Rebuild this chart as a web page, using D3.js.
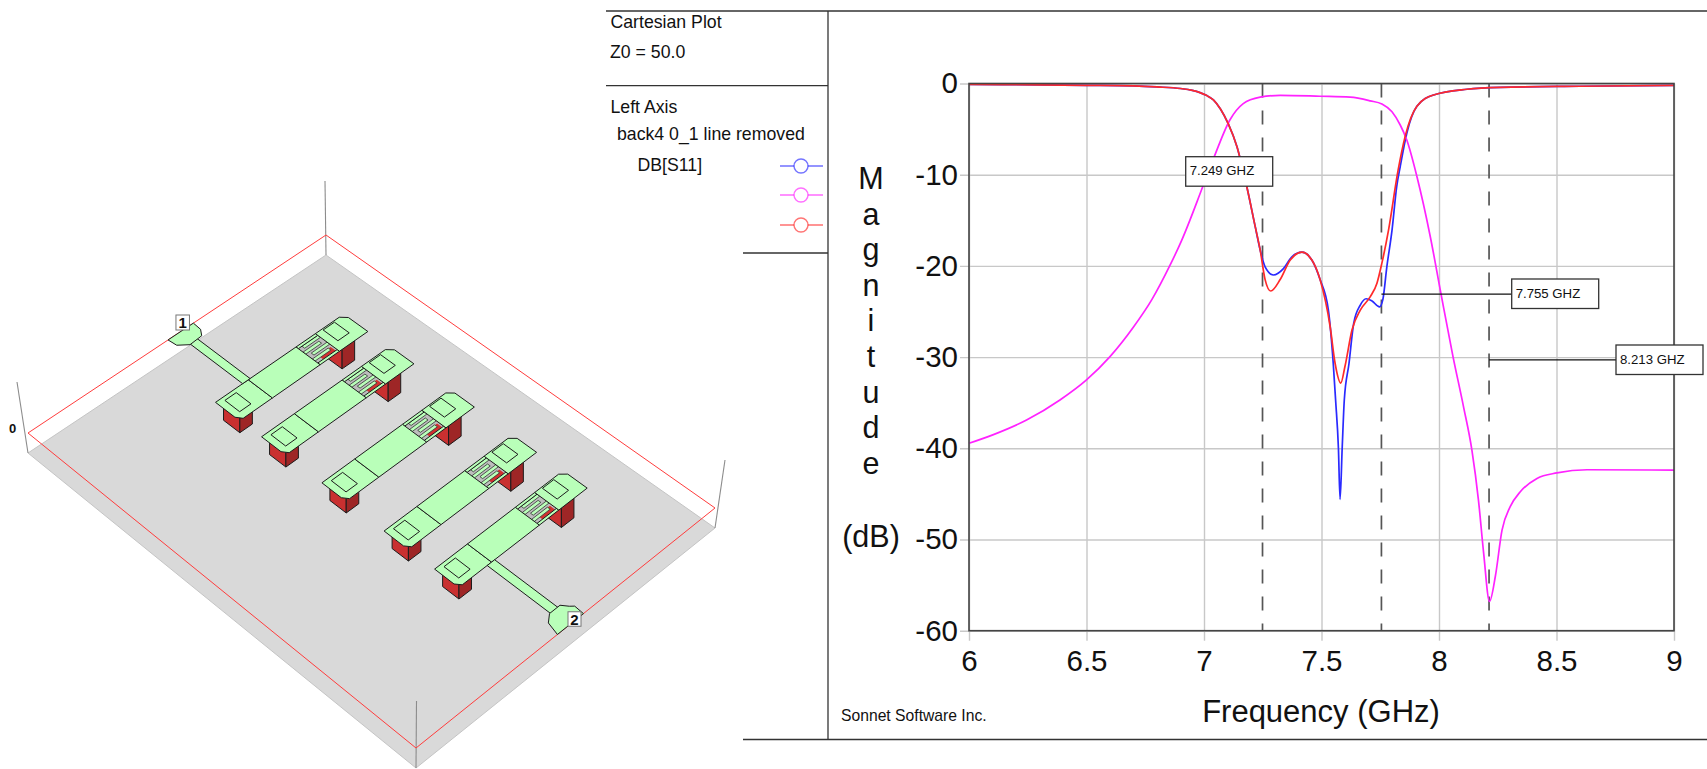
<!DOCTYPE html>
<html>
<head>
<meta charset="utf-8">
<title>Cartesian Plot</title>
<script src="https://cdn.jsdelivr.net/npm/d3@7"></script>
<style>
  body { margin: 0; background: #fff; }
  svg { display: block; }
  text { font-family: "Liberation Sans", Arial, sans-serif; fill: #111; }
</style>
</head>
<body>
<svg id="chart" width="1707" height="769"></svg>
<script>
// values: [frequency GHz, dB]
const s21 = [[6,-39.45],[6.104,-38.5],[6.245,-36.9],[6.387,-34.7],[6.5,-32.5],[6.6,-29.95],[6.7,-26.7],[6.778,-23.7],[6.856,-19.9],[6.905,-17.2],[6.995,-11.3],[7.047,-7.8],[7.11,-4.0],[7.167,-2.2],[7.239,-1.5],[7.324,-1.3],[7.494,-1.4],[7.622,-1.5],[7.707,-1.9],[7.757,-2.25],[7.8,-3.1],[7.835,-4.55],[7.863,-6.2],[7.906,-10.2],[7.963,-16.8],[8.008,-23],[8.06,-30],[8.104,-35.4],[8.14,-40.2],[8.168,-45.7],[8.19,-51.5],[8.215,-56.8],[8.24,-54],[8.268,-49],[8.303,-46.4],[8.345,-44.8],[8.417,-43.3],[8.502,-42.7],[8.63,-42.35],[9,-42.4]];
const s11Shared = [[6,-0.1],[6.5,-0.2],[6.7,-0.27],[6.8,-0.38],[6.9,-0.55],[6.95,-0.75],[6.983,-1.0],[7.01,-1.3],[7.04,-1.8],[7.07,-2.8],[7.103,-4.4],[7.14,-6.9],[7.182,-11.3],[7.218,-15.7],[7.239,-18.25]];
const s11Blue = s11Shared.concat([[7.26,-20.1],[7.296,-21],[7.338,-20.3],[7.374,-19],[7.417,-18.5],[7.459,-19.35],[7.494,-21.5],[7.529,-24.8],[7.55,-30.7],[7.56,-34.7],[7.572,-40],[7.579,-45.6],[7.588,-40],[7.597,-34.7],[7.617,-30.7],[7.637,-26.3],[7.665,-24.3],[7.69,-23.6],[7.715,-23.85],[7.747,-24.5],[7.761,-23.7],[7.778,-20.1],[7.8,-16.1],[7.82,-11.3],[7.835,-9.1],[7.863,-5.45],[7.906,-2.5],[7.977,-1.26],[8.119,-0.63],[8.26,-0.42],[8.6,-0.3],[9,-0.2]]);
const s11Red = s11Shared.concat([[7.26,-21.5],[7.284,-22.75],[7.324,-21.5],[7.367,-19.35],[7.417,-18.5],[7.459,-19.35],[7.494,-21.5],[7.537,-26.7],[7.558,-30.7],[7.582,-32.85],[7.6,-31],[7.63,-27],[7.665,-24.85],[7.707,-23.4],[7.736,-21.9],[7.757,-19.7],[7.785,-16.1],[7.826,-9.5],[7.856,-5.8],[7.906,-2.5],[7.977,-1.26],[8.119,-0.63],[8.26,-0.42],[8.6,-0.3],[9,-0.2]]);

const xTicks = [6, 6.5, 7, 7.5, 8, 8.5, 9];
const xTickLabels = ["6", "6.5", "7", "7.5", "8", "8.5", "9"];
const yTicks = [0, -10, -20, -30, -40, -50, -60];
const yTickLabels = ["0", "-10", "-20", "-30", "-40", "-50", "-60"];
const markerFreqs = [7.249, 7.755, 8.213];
const markerLabels = ["7.249 GHZ", "7.755 GHZ", "8.213 GHZ"];
const markerDb = [null, -23.1, -30.3];

const blue = "#2a2aff", magenta = "#ff22ff", red = "#ff2a2a";

const svg = d3.select("#chart");
const plotLeft = 969, plotRight = 1674, plotTop = 83.5, plotBottom = 630.7;
const x = d3.scaleLinear().domain([6, 9]).range([plotLeft, plotRight]);
const y = d3.scaleLinear().domain([0, -60]).range([plotTop, plotBottom]);

// ---- side panel frame
const rules = [[606,11,1707,11],[606,85.7,828,85.7],[743,253,828,253],[828,11,828,739.5],[743,739.5,1707,739.5]];
svg.append("g").selectAll("line").data(rules).enter().append("line")
    .attr("x1", d => d[0]).attr("y1", d => d[1]).attr("x2", d => d[2]).attr("y2", d => d[3])
    .attr("stroke", "#333").attr("stroke-width", 1.3);

const panelText = [["Cartesian Plot",610.5,28],["Z0 = 50.0",610,58],["Left Axis",610.5,113],["back4 0_1 line removed",617,140],["DB[S11]",637.5,171]];
svg.append("g").selectAll("text").data(panelText).enter().append("text")
    .attr("x", d => d[1]).attr("y", d => d[2]).attr("font-size", 17.7).text(d => d[0]);

const legend = svg.append("g").selectAll("g").data([[blue,166],[magenta,195],[red,225]]).enter().append("g")
    .attr("transform", d => `translate(801,${d[1]})`);
legend.append("line").attr("x1", -21).attr("x2", 22).attr("stroke", d => d[0]).attr("stroke-width", 1.2);
legend.append("circle").attr("r", 7).attr("fill", "#fff").attr("stroke", d => d[0]).attr("stroke-opacity", 0.65).attr("stroke-width", 1.4);

// ---- axes and grid
const xAxis = svg.append("g").attr("transform", `translate(0,${plotBottom})`)
    .call(d3.axisBottom(x).tickValues(xTicks).tickFormat((d, i) => xTickLabels[i]).tickSize(10).tickPadding(9));
xAxis.selectAll(".tick line").attr("y2", 10).attr("y1", plotTop - plotBottom);
const yAxis = svg.append("g").attr("transform", `translate(${plotLeft},0)`)
    .call(d3.axisLeft(y).tickValues(yTicks).tickFormat((d, i) => yTickLabels[i]).tickSize(9).tickPadding(2));
yAxis.selectAll(".tick line").attr("x2", plotRight - plotLeft).attr("x1", -9);
[xAxis, yAxis].forEach(a => {
    a.select(".domain").remove();
    a.selectAll(".tick line").attr("stroke", "#c8c8c8").attr("stroke-width", 1.4);
    a.selectAll(".tick text").attr("font-size", 29.5).attr("font-family", "Liberation Sans").attr("fill", "#111");
});

// ---- marker dashes
svg.append("g").selectAll("line").data(markerFreqs).enter().append("line")
    .attr("x1", d => x(d)).attr("x2", d => x(d)).attr("y1", plotTop).attr("y2", plotBottom)
    .attr("stroke", "#555").attr("stroke-width", 1.7).attr("stroke-dasharray", "14 13");

// ---- traces
const line = d3.line().x(d => x(d[0])).y(d => y(d[1])).curve(d3.curveMonotoneX);
[[s11Blue, blue], [s21, magenta], [s11Red, red]].forEach(t => {
    svg.append("path").attr("d", line(t[0])).attr("fill", "none")
        .attr("stroke", t[1]).attr("stroke-width", 1.7);
});

// plot frame
svg.append("rect").attr("x", plotLeft).attr("y", plotTop).attr("width", plotRight - plotLeft).attr("height", plotBottom - plotTop)
    .attr("fill", "none").attr("stroke", "#444").attr("stroke-width", 1.6);

// ---- marker labels
const boxW = 87, boxH = 29.5;
const boxes = [[1185.7,156.7],[1511.7,279],[1616,345]];
markerFreqs.forEach((f, i) => {
    const b = boxes[i];
    if (markerDb[i] !== null) {
        svg.append("line").attr("x1", x(f)).attr("x2", b[0]).attr("y1", y(markerDb[i])).attr("y2", y(markerDb[i]))
            .attr("stroke", "#111").attr("stroke-width", 1.3);
    }
    svg.append("rect").attr("x", b[0]).attr("y", b[1]).attr("width", boxW).attr("height", boxH)
        .attr("fill", "#fff").attr("stroke", "#333").attr("stroke-width", 1.3);
    svg.append("text").attr("x", b[0] + 4).attr("y", b[1] + 18.5).attr("font-size", 13.2).attr("fill", "#333").text(markerLabels[i]);
});

// ---- axis titles
const yTitle = ["M","a","g","n","i","t","u","d","e"];
svg.append("g").selectAll("text").data(yTitle).enter().append("text")
    .attr("x", 871).attr("y", (d, i) => 189 + i * 35.6).attr("text-anchor", "middle").attr("font-size", 30.5).text(d => d);
svg.append("text").attr("x", 871).attr("y", 547).attr("text-anchor", "middle").attr("font-size", 30.5).text("(dB)");
svg.append("text").attr("x", 1321).attr("y", 722).attr("text-anchor", "middle").attr("font-size", 31).text("Frequency (GHz)");
svg.append("text").attr("x", 841).attr("y", 721).attr("font-size", 15.7).attr("fill", "#333").text("Sonnet Software Inc.");

// ---- layout view: board coords u, v in 0..1, z = height above the ground plane
function project(u, v, z) {
    return [326 + 389 * u - 298 * v - u * v,
            255 + 273 * u + 198 * v + 42 * u * v - 20 * (z || 0)];
}
const outline = d3.line();
const layout = svg.append("g");
function poly(pts, z, fill, stroke, w) {
    layout.append("path").attr("d", outline(pts.map(p => project(p[0], p[1], z))) + "Z")
        .attr("fill", fill).attr("stroke", stroke || "none").attr("stroke-width", w || 1).attr("stroke-linejoin", "round");
}
const corners = [[0,0],[1,0],[1,1],[0,1]];
poly(corners, 0, "#d9d9d9", "#c4c4c4", 1);

// corner posts: [u, v, lean x, height y]
const posts = [[0,0,-1,74],[0,1,-11,71],[1,1,0.5,67],[1,0,10,68]];
layout.append("g").selectAll("line").data(posts).enter().append("line")
    .attr("x1", d => project(d[0], d[1], 0)[0]).attr("y1", d => project(d[0], d[1], 0)[1])
    .attr("x2", d => project(d[0], d[1], 0)[0] + d[2]).attr("y2", d => project(d[0], d[1], 0)[1] - d[3])
    .attr("stroke", "#8c8c8c").attr("stroke-width", 1.1);
poly(corners, 1, "none", "#ff3c3c", 1);

// resonators: left edge u, near end v
const resU = [0.169, 0.286, 0.441, 0.602, 0.731];
const resV = [0.591, 0.589, 0.5885, 0.5897, 0.5883];
const metal = "#b9ffb9", edge = "#1c1c1c";

function via(uc, vc) {
    const s = 0.021;
    const face = (a, b, fill) => {
        const t1 = project(a[0], a[1], 1), t2 = project(b[0], b[1], 1), b2 = project(b[0], b[1], 0), b1 = project(a[0], a[1], 0);
        layout.append("path").attr("d", outline([t1, t2, b2, b1]) + "Z")
            .attr("fill", fill).attr("stroke", "#1c1c1c").attr("stroke-width", 1);
    };
    face([uc-s, vc+s], [uc+s, vc+s], "#c93030");
    face([uc+s, vc+s], [uc+s, vc-s], "#9e2626");
}

resU.forEach((u0, i) => {
    const v0 = resV[i];
    const at = p => [u0 + p[0], v0 + p[1]];
    via(u0 + 0.027, v0 - 0.04);
    via(u0 + 0.04, v0 - 0.366);

    // gap with the interdigitated fingers
    poly([[0.004,-0.27],[0.058,-0.27],[0.058,-0.335],[0.004,-0.335]].map(at), 1, "#bdbdbd");
    poly([[0.043,-0.288],[0.056,-0.288],[0.056,-0.33],[0.043,-0.33]].map(at), 1, "#d23030");
    [[0.006,-0.335,-0.282],[0.018,-0.27,-0.323],[0.03,-0.335,-0.282],[0.042,-0.27,-0.323]].forEach(f => {
        poly([[f[0],f[1]],[f[0]+0.007,f[1]],[f[0]+0.007,f[2]],[f[0],f[2]]].map(at), 1, metal, "#333", 0.8);
    });
    poly([[0,-0.27],[0.006,-0.27],[0.006,-0.335],[0,-0.335]].map(at), 1, metal, edge);
    poly([[0.056,-0.27],[0.062,-0.27],[0.062,-0.335],[0.056,-0.335]].map(at), 1, metal, edge);

    // patch sections
    poly([[0,0],[0.05,0],[0.062,-0.012],[0.062,-0.11],[0,-0.11]].map(at), 1, metal, edge);
    poly([[0,-0.11],[0.062,-0.11],[0.062,-0.27],[0,-0.27]].map(at), 1, metal, edge);
    poly([[0,-0.335],[0.062,-0.335],[0.062,-0.43],[0.012,-0.43],[0,-0.415]].map(at), 1, metal, edge);

    // pad squares
    poly([[0.008,-0.021],[0.046,-0.021],[0.046,-0.059],[0.008,-0.059]].map(at), 1, "none", edge);
    poly([[0.003,-0.357],[0.041,-0.357],[0.041,-0.395],[0.003,-0.395]].map(at), 1, "none", edge);
});

// feed lines and ports
poly([[0.03,0.475],[0.169,0.475],[0.169,0.5],[0.03,0.5]], 1, metal, edge);
poly([[0,0.53],[0.02,0.527],[0.035,0.502],[0.033,0.46],[0.02,0.447],[0,0.445]], 1, metal, edge);
poly([[0.793,0.468],[0.957,0.468],[0.957,0.493],[0.793,0.493]], 1, metal, edge);
poly([[1,0.527],[0.969,0.517],[0.955,0.495],[0.955,0.46],[0.969,0.447],[0.976,0.438],[1,0.44]], 1, metal, edge);

const portTags = [["1",182.7,322.5,13.5,15],["2",574.5,619,13,14.5]];
portTags.forEach(p => {
    layout.append("rect").attr("x", p[1] - p[3] / 2).attr("y", p[2] - p[4] / 2).attr("width", p[3]).attr("height", p[4])
        .attr("fill", "#fff").attr("stroke", "#777").attr("stroke-width", 1);
    layout.append("text").attr("x", p[1]).attr("y", p[2] + 5.5).attr("text-anchor", "middle")
        .attr("font-size", 15).attr("font-weight", "bold").text(p[0]);
});
layout.append("text").attr("x", 12.7).attr("y", 432.5).attr("text-anchor", "middle")
    .attr("font-size", 13).attr("font-weight", "bold").text("0");
</script>
</body>
</html>
